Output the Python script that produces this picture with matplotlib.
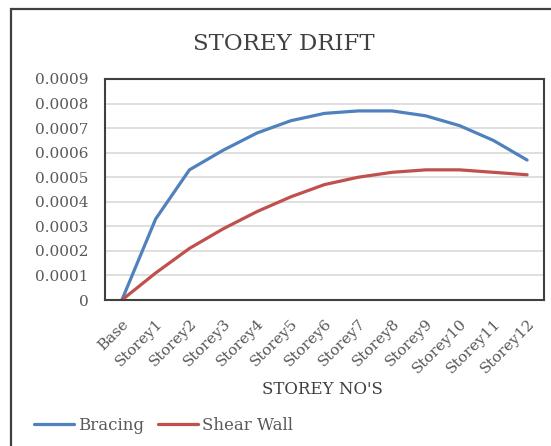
import matplotlib.pyplot as plt
from matplotlib.patches import Rectangle

storeys = ["Base"] + [f"Storey{i}" for i in range(1, 13)]
bracing = [0, 0.00033, 0.00053, 0.00061, 0.00068, 0.00073, 0.00076,
           0.00077, 0.00077, 0.00075, 0.00071, 0.00065, 0.00057]
shear_wall = [0, 0.00011, 0.00021, 0.00029, 0.00036, 0.00042, 0.00047,
              0.00050, 0.00052, 0.00053, 0.00053, 0.00052, 0.00051]
yticks = [i * 0.0001 for i in range(10)]
ytick_labels = ["0"] + [f"{t:.4f}" for t in yticks[1:]]

plt.rcParams["font.family"] = ["DejaVu Serif"]
grey = "#595959"

fig = plt.figure(figsize=(5.51, 4.46), dpi=100)
# outer chart frame
fig.patches.append(Rectangle((11 / 551, -0.1), 1.2, 1.1 - 9 / 446,
                             transform=fig.transFigure, fill=False,
                             edgecolor="#404040", linewidth=1.6))

ax = fig.add_axes([105 / 551, 1 - 300 / 446, 439 / 551, 221 / 446])
x = range(len(storeys))
ax.plot(x, bracing, color="#4F81BD", lw=2.3, solid_joinstyle="round",
        solid_capstyle="round", label="Bracing")
ax.plot(x, shear_wall, color="#C0504D", lw=2.3, solid_joinstyle="round",
        solid_capstyle="round", label="Shear Wall")

ax.set_xlim(-0.5, len(storeys) - 0.5)
ax.set_ylim(0, 0.0009)
ax.set_yticks(yticks)
ax.set_yticklabels(ytick_labels)
ax.set_xticks(list(x))
ax.set_xticklabels(storeys, rotation=45, ha="right", rotation_mode="anchor")
ax.tick_params(length=0, colors=grey, labelsize=11)
ax.tick_params(axis="y", pad=12)
ax.tick_params(axis="x", pad=12)
ax.grid(axis="y", color="#D9D9D9", lw=1.2)
ax.set_axisbelow(True)
for s in ax.spines.values():
    s.set_color("#404040")
    s.set_linewidth(1.5)

fig.text(284 / 551, 1 - 44 / 446, "STOREY DRIFT", ha="center", va="center",
         fontsize=16.5, color="#404040")
fig.text(322 / 551, 1 - 390 / 446, "STOREY NO'S", ha="center", va="center",
         fontsize=12, color="#404040")

fig.legend(loc="center left", bbox_to_anchor=(34 / 551, 1 - 425 / 446),
           ncol=2, frameon=False, fontsize=12, handlelength=2.4,
           handletextpad=0.25, columnspacing=0.8, labelcolor=grey,
           borderaxespad=0, borderpad=0)

fig.savefig("out.png", dpi=100)
